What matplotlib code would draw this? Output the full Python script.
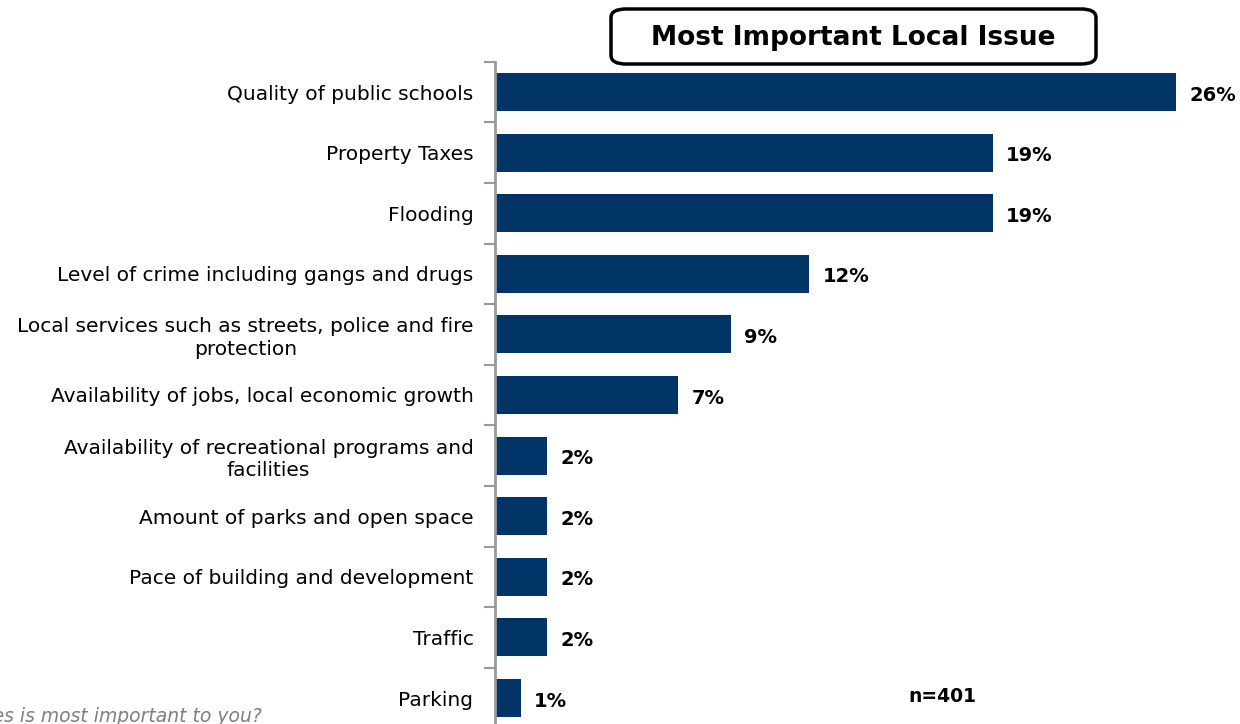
import matplotlib.pyplot as plt
from matplotlib.patches import FancyBboxPatch
from matplotlib.ticker import FixedLocator

# Data
issues = [
    "Quality of public schools",
    "Property Taxes",
    "Flooding",
    "Level of crime including gangs and drugs",
    "Local services such as streets, police and fire\nprotection",
    "Availability of jobs, local economic growth",
    "Availability of recreational programs and\nfacilities",
    "Amount of parks and open space",
    "Pace of building and development",
    "Traffic",
    "Parking",
]
percents = [26, 19, 19, 12, 9, 7, 2, 2, 2, 2, 1]
title = "Most Important Local Issue"
sample_note = "n=401"
question = "Q: Which of these issues is most important to you?"

W, H = 1240, 724
fig = plt.figure(figsize=(W / 100, H / 100), dpi=100)

# axes placed in pixel terms: left spine at x=495, top at y=61.7, 60.6 px per row
left_px, top_px, row_px = 495, 61.7, 60.6
px_per_pct = 26.2
xmax = 28
ax_w = xmax * px_per_pct
ax_h = len(issues) * row_px
ax = fig.add_axes([left_px / W, (H - top_px - ax_h) / H, ax_w / W, ax_h / H])

y = list(range(len(issues)))
ax.barh(y, percents, height=0.63, color="#003366")
ax.set_xlim(0, xmax)
ax.set_ylim(len(issues) - 0.5, -0.5)

for yi, v in zip(y, percents):
    ax.text(v + 0.5, yi + 0.05, f"{v}%", va="center", ha="left",
            fontsize=14, fontweight="bold", family="DejaVu Sans")

# category labels
ax.set_yticks(y)
ax.set_yticklabels(issues, fontsize=14.5, family="DejaVu Sans", linespacing=1.25,
                   ha="right", multialignment="center")
ax.tick_params(axis="y", which="major", length=0, pad=15.5)
ax.yaxis.set_minor_locator(FixedLocator([i - 0.5 for i in range(len(issues) + 1)]))
ax.tick_params(axis="y", which="minor", length=8, width=1.5, color="#999999", direction="out")

ax.set_xticks([])
for s in ["top", "right", "bottom"]:
    ax.spines[s].set_visible(False)
ax.spines["left"].set_color("#999999")
ax.spines["left"].set_linewidth(2)

# title box
box = FancyBboxPatch((611 / W, (H - 64) / H), (1096 - 611) / W, (64 - 9) / H,
                     boxstyle="round,pad=0,rounding_size=0.012", transform=fig.transFigure,
                     facecolor="white", edgecolor="black", linewidth=2.5)
fig.patches.append(box)
fig.text(853 / W, (H - 38) / H, title, ha="center", va="center",
         fontsize=19, fontweight="bold", family="DejaVu Sans")

fig.text(942 / W, (H - 697) / H, sample_note, ha="center", va="center",
         fontsize=13.5, fontweight="bold", family="DejaVu Sans")

fig.text(262 / W, (H - 722) / H, question, ha="right", va="baseline",
         fontsize=13.5, style="italic", color="#7f7f7f", family="DejaVu Sans")

fig.savefig("out.png", dpi=100)
